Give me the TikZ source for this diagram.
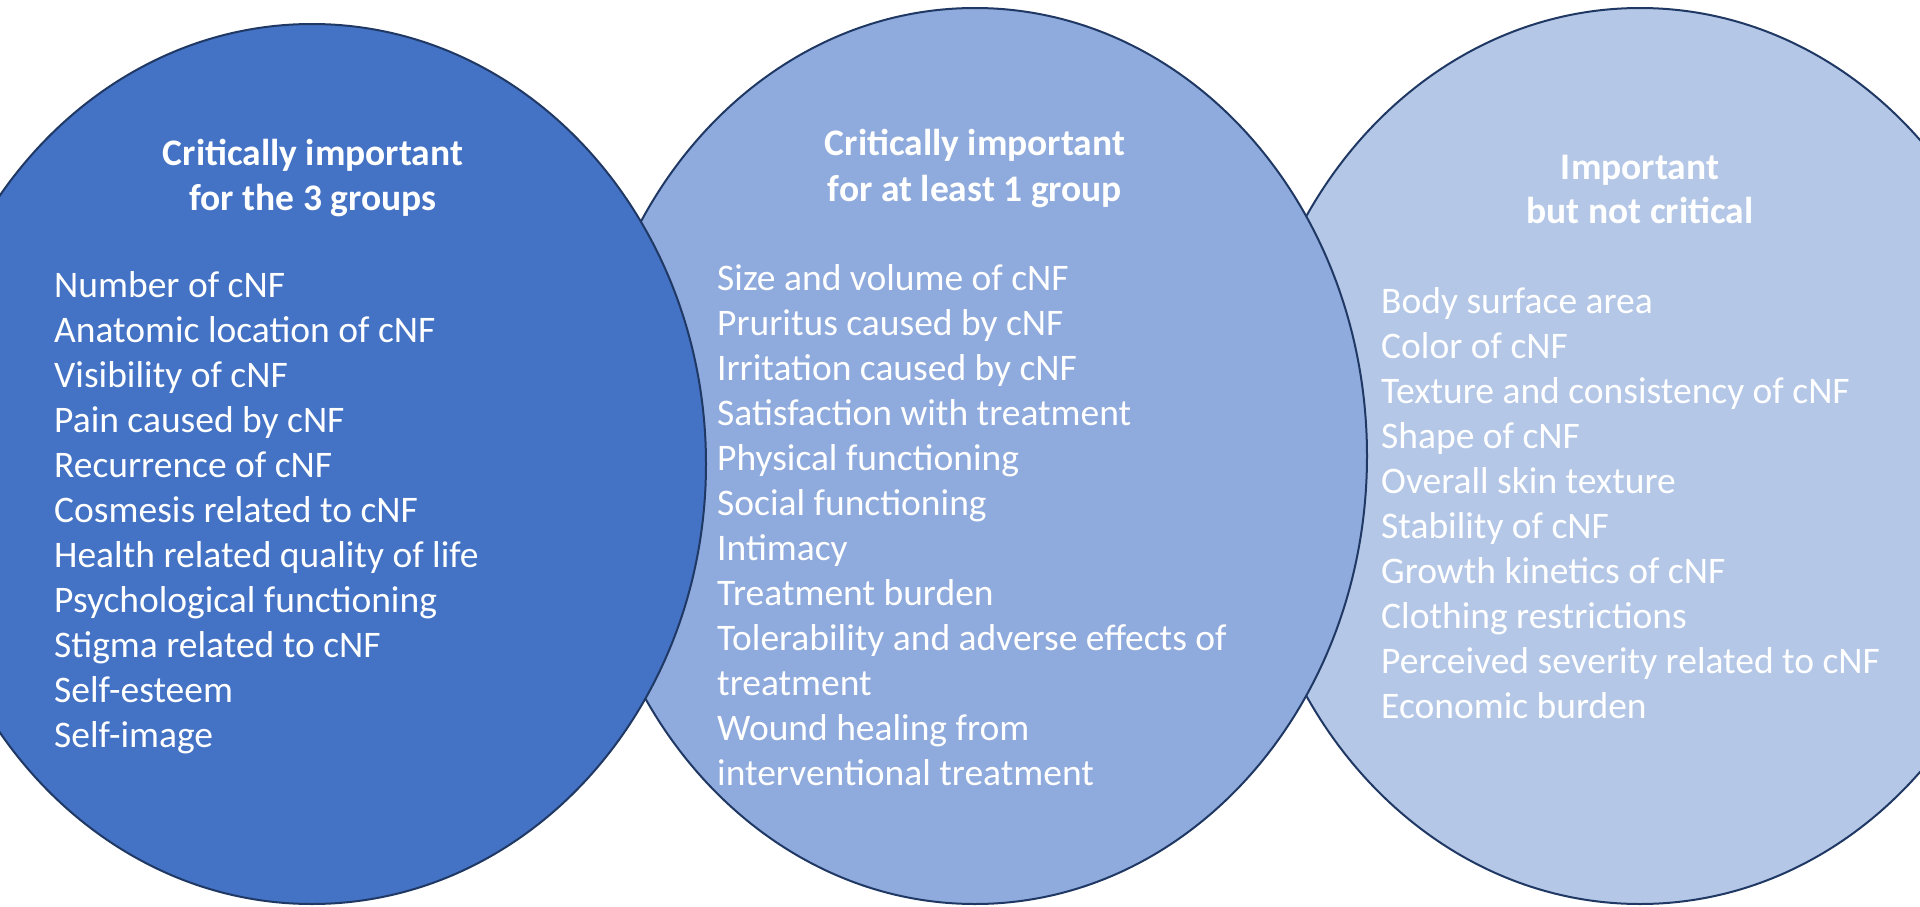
\documentclass[tikz,border=0pt]{standalone}
\usepackage{fontspec}
\setmainfont{Carlito}
\definecolor{ovalA}{HTML}{4472C4}
\definecolor{ovalB}{HTML}{8FAADC}
\definecolor{ovalC}{HTML}{B4C7E7}
\definecolor{rim}{HTML}{1F3864}
\begin{document}
\begin{tikzpicture}[x=1pt,y=-1pt,
  oval/.style={draw=rim,line width=2pt},
  head/.style={text=white,font=\fontsize{37.5}{45}\selectfont\bfseries,anchor=base,inner sep=0pt},
  item/.style={text=white,font=\fontsize{37.5}{45}\selectfont,anchor=base west,inner sep=0pt}]
  \useasboundingbox (0,0) rectangle (1920,907);
  \clip (0,0) rectangle (1920,907);
  \fill[white] (0,0) rectangle (1920,907);
  % the three ovals, right one at the back
  \draw[oval,fill=ovalC] (1640,456) ellipse [x radius=395,y radius=448];
  \draw[oval,fill=ovalB] (975,456) ellipse [x radius=392,y radius=448];
  \draw[oval,fill=ovalA] (312,464) ellipse [x radius=394,y radius=440];
  % headings
  \node[head] (hA1) at (313,165) {Critically important};
  \node[head] (hA2) at (313,210) {for the 3 groups};
  \node[head] (hB1) at (975,155) {Critically important};
  \node[head] (hB2) at (975,201) {for at least 1 group};
  \node[head] (hC1) at (1640,179) {Important};
  \node[head] (hC2) at (1640,223) {but not critical};
  % outcome lists
  \foreach \txt [count=\i] in {Number of cNF, Anatomic location of cNF,
      Visibility of cNF, Pain caused by cNF, Recurrence of cNF,
      Cosmesis related to cNF, Health related quality of life,
      Psychological functioning, Stigma related to cNF, Self-esteem, Self-image}
    \node[item] (a\i) at (54,252+45*\i) {\txt};
  \foreach \txt [count=\i] in {Size and volume of cNF, Pruritus caused by cNF,
      Irritation caused by cNF, Satisfaction with treatment,
      Physical functioning, Social functioning, Intimacy, Treatment burden,
      Tolerability and adverse effects of, treatment, Wound healing from,
      interventional treatment}
    \node[item] (b\i) at (717,245+45*\i) {\txt};
  \foreach \txt [count=\i] in {Body surface area, Color of cNF,
      Texture and consistency of cNF, Shape of cNF, Overall skin texture,
      Stability of cNF, Growth kinetics of cNF, Clothing restrictions,
      Perceived severity related to cNF, Economic burden}
    \node[item] (c\i) at (1381,268+45*\i) {\txt};
\end{tikzpicture}
\end{document}
